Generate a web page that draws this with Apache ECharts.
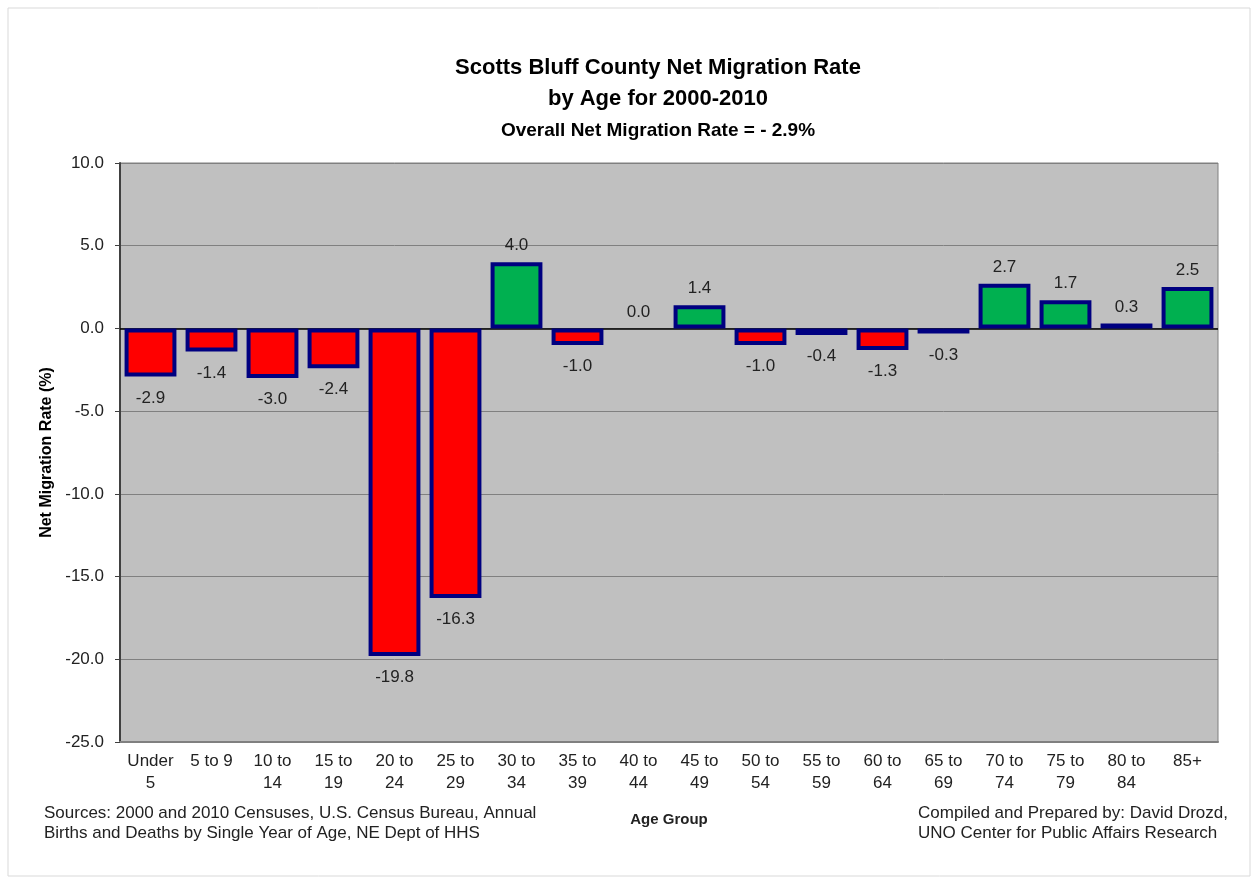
<!DOCTYPE html>
<html>
<head>
<meta charset="utf-8">
<script src="https://cdn.jsdelivr.net/npm/echarts@6/dist/echarts.min.js"></script>
<style>
  html, body { margin: 0; padding: 0; background: #fff; }
  #chart { width: 1255px; height: 882px; }
</style>
</head>
<body>
<div id="chart"></div>
<script>
var ageGroups = ['Under\n5', '5 to 9', '10 to\n14', '15 to\n19', '20 to\n24', '25 to\n29', '30 to\n34', '35 to\n39', '40 to\n44',
  '45 to\n49', '50 to\n54', '55 to\n59', '60 to\n64', '65 to\n69', '70 to\n74', '75 to\n79', '80 to\n84', '85+'];
var migrationRate = [-2.9, -1.4, -3.0, -2.4, -19.8, -16.3, 4.0, -1.0, 0.0, 1.4, -1.0, -0.4, -1.3, -0.3, 2.7, 1.7, 0.3, 2.5];

var font = 'Liberation Sans, Arial, sans-serif';
var chart = echarts.init(document.getElementById('chart'));

// one item per bar: colour and label side follow the sign
var barData = migrationRate.map(function (v) {
  return {
    value: v,
    itemStyle: {
      color: v < 0 ? '#ff0000' : '#00b050',
      borderWidth: v === 0 ? 0 : 4
    },
    label: {
      position: v < 0 ? 'bottom' : 'top',
      distance: v < 0 ? 13 : 8
    }
  };
});

var option = {
  backgroundColor: '#fff',
  animation: false,
  textStyle: { fontFamily: font },
  graphic: [
    { type: 'rect', shape: { x: 8, y: 8, width: 1242, height: 868 }, style: { fill: 'none', stroke: '#d9d9d9', lineWidth: 1 } },
    { type: 'text', left: 44, top: 803, style: { text: 'Sources: 2000 and 2010 Censuses, U.S. Census Bureau, Annual\nBirths and Deaths by Single Year of Age, NE Dept of HHS', font: '17px ' + font, fill: '#222', lineHeight: 20 } },
    { type: 'text', right: 27, top: 803, style: { text: 'Compiled and Prepared by: David Drozd,\nUNO Center for Public Affairs Research', font: '17px ' + font, fill: '#222', lineHeight: 20, align: 'right' } }
  ],
  title: [{
    text: 'Scotts Bluff County Net Migration Rate\nby Age for 2000-2010',
    left: 653, top: 47, textAlign: 'center',
    textStyle: { fontSize: 22, fontWeight: 'bold', color: '#000', lineHeight: 31, fontFamily: font }
  }, {
    text: 'Overall Net Migration Rate = - 2.9%',
    left: 653, top: 116, textAlign: 'center',
    textStyle: { fontSize: 19, fontWeight: 'bold', color: '#000', fontFamily: font }
  }],
  grid: {
    left: 120, right: 37, top: 163, bottom: 140,
    show: true, backgroundColor: '#c0c0c0', borderColor: '#808080', borderWidth: 1
  },
  xAxis: {
    type: 'category',
    data: ageGroups,
    name: 'Age Group',
    nameLocation: 'middle',
    nameGap: 70,
    nameTextStyle: { fontSize: 15, fontWeight: 'bold', color: '#222', fontFamily: font },
    axisLine: { onZero: false, lineStyle: { color: '#808080', width: 2 } },
    axisTick: { show: false },
    axisLabel: { color: '#222', fontSize: 17, lineHeight: 22, margin: 8, interval: 0, fontFamily: font }
  },
  yAxis: {
    type: 'value',
    min: -25, max: 10, interval: 5,
    name: 'Net Migration Rate (%)',
    nameLocation: 'middle',
    nameGap: 64,
    nameTextStyle: { fontSize: 16, fontWeight: 'bold', color: '#000', fontFamily: font },
    axisLine: { show: true, lineStyle: { color: '#404040', width: 2 } },
    axisTick: { show: true, length: 5, lineStyle: { color: '#404040' } },
    axisLabel: { color: '#222', fontSize: 17, margin: 16, formatter: function (v) { return v.toFixed(1); }, fontFamily: font },
    splitLine: { show: true, lineStyle: { color: '#808080', width: 1 } }
  },
  series: [{
    type: 'bar',
    data: barData,
    barCategoryGap: '15%',
    itemStyle: { borderColor: '#000080', borderWidth: 4 },
    label: {
      show: true, color: '#222', fontSize: 17, fontFamily: font,
      formatter: function (p) { return p.value.toFixed(1); }
    },
    markLine: {
      silent: true, symbol: 'none', label: { show: false },
      lineStyle: { color: '#000', width: 1.5, type: 'solid' },
      data: [{ yAxis: 0 }],
      z: 1
    }
  }]
};

chart.setOption(option);
</script>
</body>
</html>
